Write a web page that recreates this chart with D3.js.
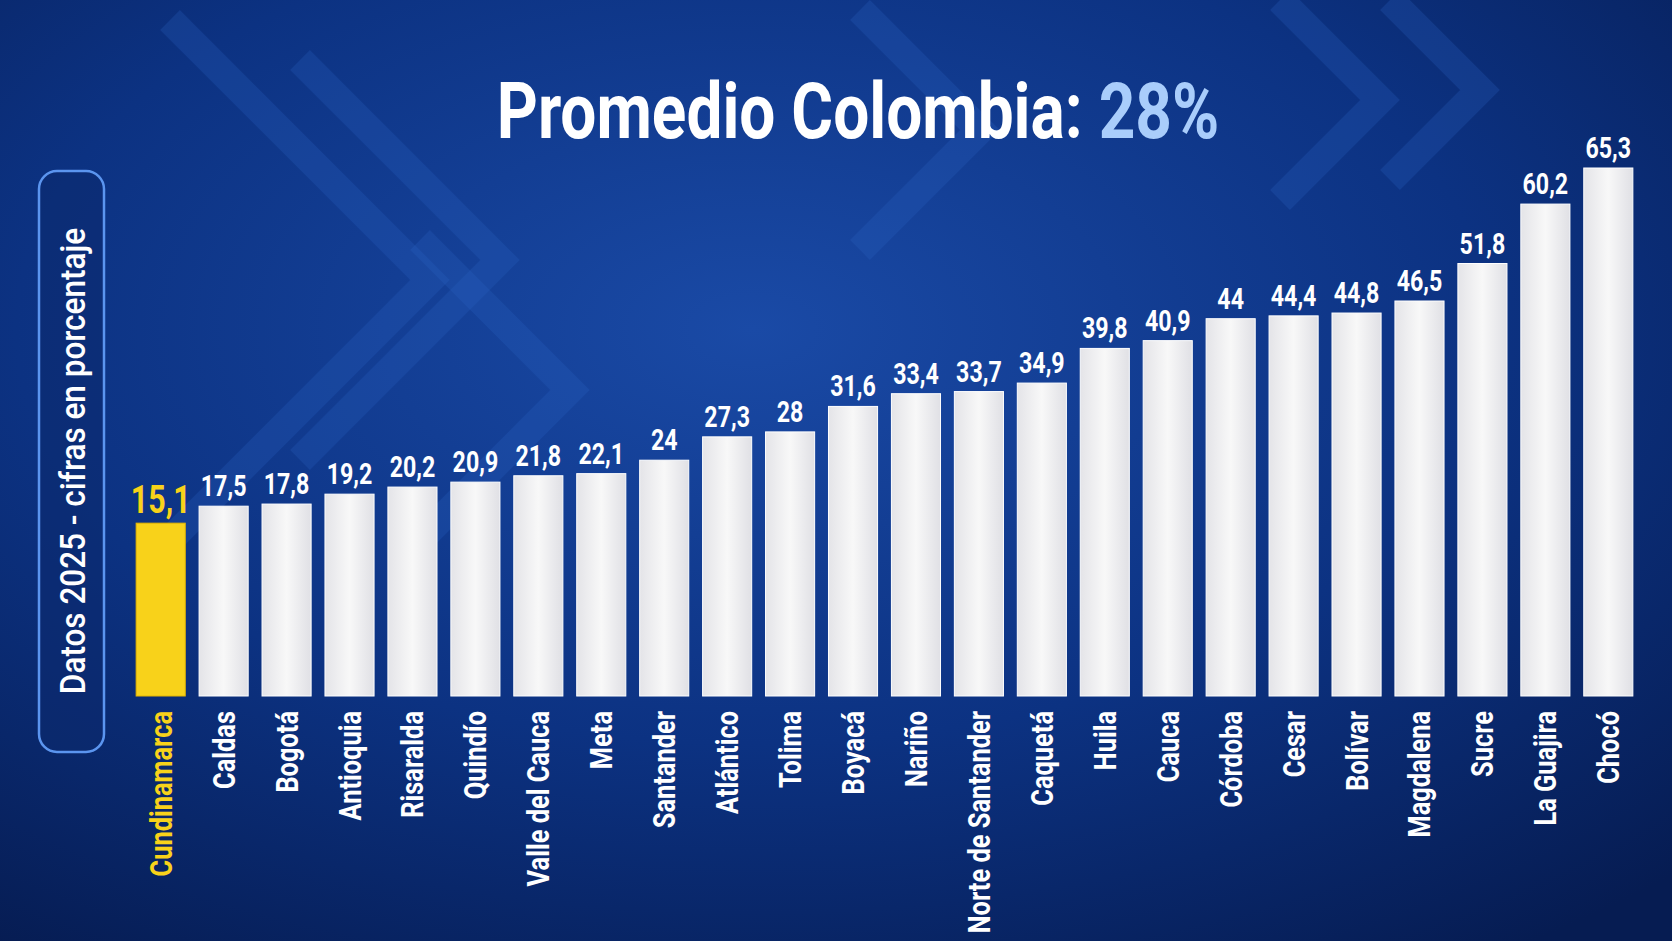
<!DOCTYPE html>
<html>
<head>
<meta charset="utf-8">
<script src="https://cdn.jsdelivr.net/npm/d3@7"></script>
<style>
  body { margin: 0; background: #0a2a6b; }
  svg { display: block; }
</style>
</head>
<body>
<div id="canvas"></div>
<script>
"use strict"

let svgWidth = 1672
let svgHeight = 941

// chart data
let departments = ["Cundinamarca", "Caldas", "Bogotá", "Antioquia", "Risaralda", "Quindío",
    "Valle del Cauca", "Meta", "Santander", "Atlántico", "Tolima", "Boyacá", "Nariño",
    "Norte de Santander", "Caquetá", "Huila", "Cauca", "Córdoba", "Cesar", "Bolívar",
    "Magdalena", "Sucre", "La Guajira", "Chocó"]
let values = [15.1, 17.5, 17.8, 19.2, 20.2, 20.9, 21.8, 22.1, 24, 27.3, 28, 31.6, 33.4,
    33.7, 34.9, 39.8, 40.9, 44, 44.4, 44.8, 46.5, 51.8, 60.2, 65.3]
let highlight = "Cundinamarca"

let fmt = v => String(v).replace(".", ",")
let font = "Roboto, 'Liberation Sans', sans-serif"

let svg = d3.select("#canvas").append("svg")
    .attr("width", svgWidth).attr("height", svgHeight)

// background
let defs = svg.append("defs")
let bg = defs.append("radialGradient").attr("id", "bg").attr("cx", "45%").attr("cy", "35%").attr("r", "80%")
bg.append("stop").attr("offset", "0%").attr("stop-color", "#1a4aa6")
bg.append("stop").attr("offset", "55%").attr("stop-color", "#0c3282")
bg.append("stop").attr("offset", "100%").attr("stop-color", "#061c52")
svg.append("rect").attr("width", svgWidth).attr("height", svgHeight).attr("fill", "url(#bg)")

let barGrad = defs.append("linearGradient").attr("id", "barg")
barGrad.append("stop").attr("offset", "0%").attr("stop-color", "#e4e4e8")
barGrad.append("stop").attr("offset", "50%").attr("stop-color", "#f8f8f8")
barGrad.append("stop").attr("offset", "100%").attr("stop-color", "#e0e0e5")

// decorative chevrons
let chevrons = [[170, 20, 260], [300, 60, 200], [860, 10, 120], [1280, 0, 100], [1390, 0, 90], [420, 240, 150]]
chevrons.forEach(c => {
    svg.append("path")
        .attr("d", `M${c[0]},${c[1]} L${c[0] + c[2]},${c[1] + c[2]} L${c[0]},${c[1] + 2 * c[2]}`)
        .attr("fill", "none").attr("stroke", "#2a62c4").attr("stroke-opacity", 0.25)
        .attr("stroke-width", 28)
})

let baseline = 696

let x = d3.scaleBand().domain(departments).range([133, 1636]).paddingInner(0.22).paddingOuter(0.05)
let y = d3.scaleLinear().domain([0, 65.3]).range([baseline - 66, 168])

// bars
svg.selectAll(".bar").data(departments).join("rect")
    .attr("x", d => x(d))
    .attr("y", (d, i) => y(values[i]))
    .attr("width", x.bandwidth())
    .attr("height", (d, i) => baseline - y(values[i]))
    .attr("fill", d => d == highlight ? "#f8d21a" : "url(#barg)")
    .attr("stroke", d => d == highlight ? "#e8b800" : "#ffffff")
    .attr("stroke-width", 1)

// value labels (condensed by horizontal scaling)
svg.selectAll(".val").data(departments).join("text")
    .attr("transform", (d, i) => `translate(${x(d) + x.bandwidth() / 2},${y(values[i]) - 10}) scale(0.8,1)`)
    .attr("text-anchor", "middle")
    .attr("font-family", font).attr("font-weight", "bold")
    .attr("font-size", d => d == highlight ? 38 : 29)
    .attr("fill", d => d == highlight ? "#f8d21a" : "#ffffff")
    .text((d, i) => fmt(values[i]))

// category labels
svg.selectAll(".cat").data(departments).join("text")
    .attr("transform", d => `translate(${x(d) + x.bandwidth() / 2 + 11},${baseline + 15}) rotate(-90) scale(0.82,1)`)
    .attr("text-anchor", "end")
    .attr("font-family", font).attr("font-weight", "bold").attr("font-size", 31)
    .attr("fill", d => d == highlight ? "#f8d21a" : "#ffffff")
    .text(d => d)

// title
let title = svg.append("text").attr("transform", "translate(858,138) scale(0.82,1)")
    .attr("text-anchor", "middle")
    .attr("font-family", font).attr("font-weight", "bold").attr("font-size", 78)
    .attr("fill", "#ffffff")
title.append("tspan").text("Promedio Colombia: ")
title.append("tspan").attr("fill", "#a9cdfb").text("28%")

// side note box
svg.append("rect").attr("x", 39).attr("y", 171).attr("width", 65).attr("height", 581).attr("rx", 18)
    .attr("fill", "#0b2a6e").attr("fill-opacity", 0.6)
    .attr("stroke", "#5b95ef").attr("stroke-width", 2.5)
svg.append("text").attr("transform", "translate(85,461) rotate(-90) scale(0.9,1)")
    .attr("text-anchor", "middle")
    .attr("font-family", font).attr("font-weight", 500).attr("font-size", 35)
    .attr("fill", "#ffffff")
    .text("Datos 2025 - cifras en porcentaje")
</script>
</body>
</html>
